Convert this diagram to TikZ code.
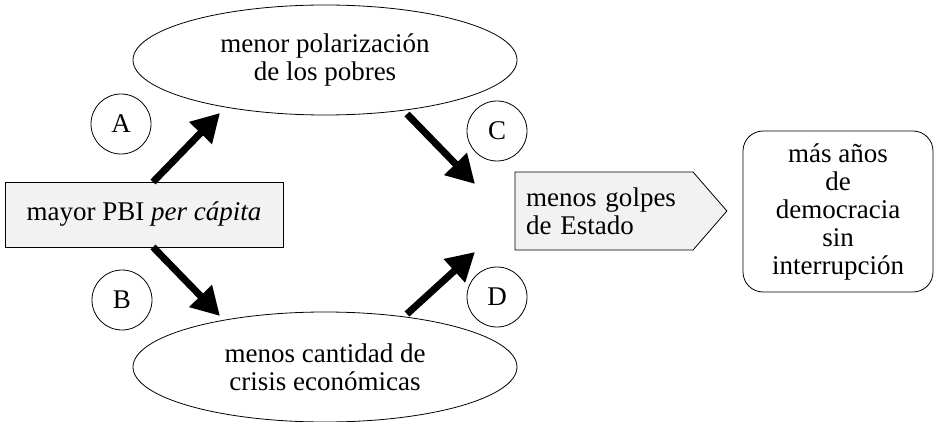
\documentclass[tikz,border=0pt]{standalone}
\usepackage{fontspec}
\setmainfont{Liberation Serif}
\usetikzlibrary{arrows.meta,shapes.geometric,shapes.symbols}

\begin{document}
\begin{tikzpicture}[x=0.5pt,y=-0.5pt,font=\fontsize{13.5}{14}\selectfont,
  box node/.style={rectangle,draw,fill=black!5,minimum width=139pt,minimum height=32.5pt,inner sep=0pt},
  oval node/.style={ellipse,draw,minimum width=192pt,minimum height=55pt,inner sep=0pt,align=center},
  letter node/.style={circle,draw,minimum size=30pt,inner sep=0pt},
  sign node/.style={signal,signal to=east,signal pointer angle=98,draw,fill=black!5,minimum height=39pt,text width=78pt,inner xsep=5.5pt,align=left},
  end node/.style={rectangle,rounded corners=10pt,draw,minimum width=95pt,minimum height=80.5pt,align=center},
  big arrow/.style={-{Triangle[length=14pt,width=15pt]},line width=3.5pt}]

\useasboundingbox (0,0) rectangle (935,422);

\node[box node](PBI) at (144,214.5) {mayor PBI \textit{per cápita}};
\node[oval node](POL) at (325,60) {menor polarización\\de los pobres};
\node[oval node](CRI) at (325,367) {menos cantidad de\\crisis económicas};
\node[sign node](GOL) at (604,211) {menos golpes\\de Estado};
\node[end node](DEM) at (838,211.5) {más años\\de\\democracia\\sin\\interrupción};

\node[letter node](A) at (121,124) {A};
\node[letter node](B) at (122,300) {B};
\node[letter node](C) at (497,131) {C};
\node[letter node](D) at (497,297) {D};

\coordinate (A1) at (153,182);
\coordinate (A2) at (220,113);
\coordinate (B1) at (153,247);
\coordinate (B2) at (220,316);
\coordinate (C1) at (407,114);
\coordinate (C2) at (475,184);
\coordinate (D1) at (407,314);
\coordinate (D2) at (475,252);

\draw[big arrow] (A1) -- (A2);
\draw[big arrow] (B1) -- (B2);
\draw[big arrow] (C1) -- (C2);
\draw[big arrow] (D1) -- (D2);
\end{tikzpicture}
\end{document}
